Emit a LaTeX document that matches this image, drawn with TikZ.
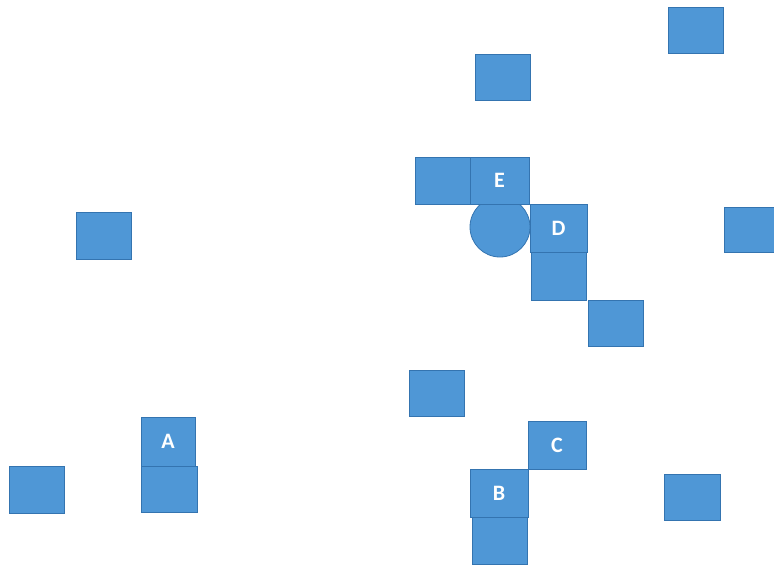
\documentclass[tikz,border=0pt]{standalone}
\usepackage{fontspec}
\setmainfont{Carlito}
\definecolor{boxfill}{RGB}{79,151,214}
\definecolor{boxline}{RGB}{52,116,176}
\begin{document}
\begin{tikzpicture}[x=1pt,y=-1pt,
  sq/.style={draw=boxline, fill=boxfill, line width=0.8pt, inner sep=0pt,
    text=white, font=\fontsize{22}{22}\selectfont\bfseries},
  bx/.style 2 args={sq, minimum width=#1pt, minimum height=#2pt}]
\useasboundingbox (0,0) rectangle (774,565);
\clip (0,0) rectangle (774,565);
% plain squares
\node[bx={55}{46}] (s1) at (695.5,30) {};
\node[bx={55}{46}] (s2) at (502.5,77) {};
\node[bx={55}{47}] (s3) at (442.5,180.5) {};
\node[bx={55}{48}] (s7) at (558.5,276) {};
\node[bx={55}{46}] (s8) at (615.5,323) {};
\node[bx={55}{45}] (s9) at (751.5,229.5) {};
\node[bx={55}{47}] (s10) at (103.5,235.5) {};
\node[bx={55}{46}] (s11) at (436.5,393) {};
\node[bx={56}{46}] (s13) at (169,489) {};
\node[bx={55}{47}] (s14) at (36.5,489.5) {};
\node[bx={55}{47}] (s17) at (499.5,540.5) {};
\node[bx={56}{46}] (s18) at (692,497) {};
% circle
\node[sq, circle, minimum size=60pt] (circ) at (500,227) {};
% labelled squares
\node[bx={59}{47}] (E) at (499.5,180.5) {E};
\node[bx={57}{48}] (D) at (558.5,228) {D};
\node[bx={54}{49}] (A) at (168,441.5) {A};
\node[bx={58}{48}] (C) at (557,445) {C};
\node[bx={58}{48}] (B) at (499,493) {B};
\end{tikzpicture}
\end{document}
